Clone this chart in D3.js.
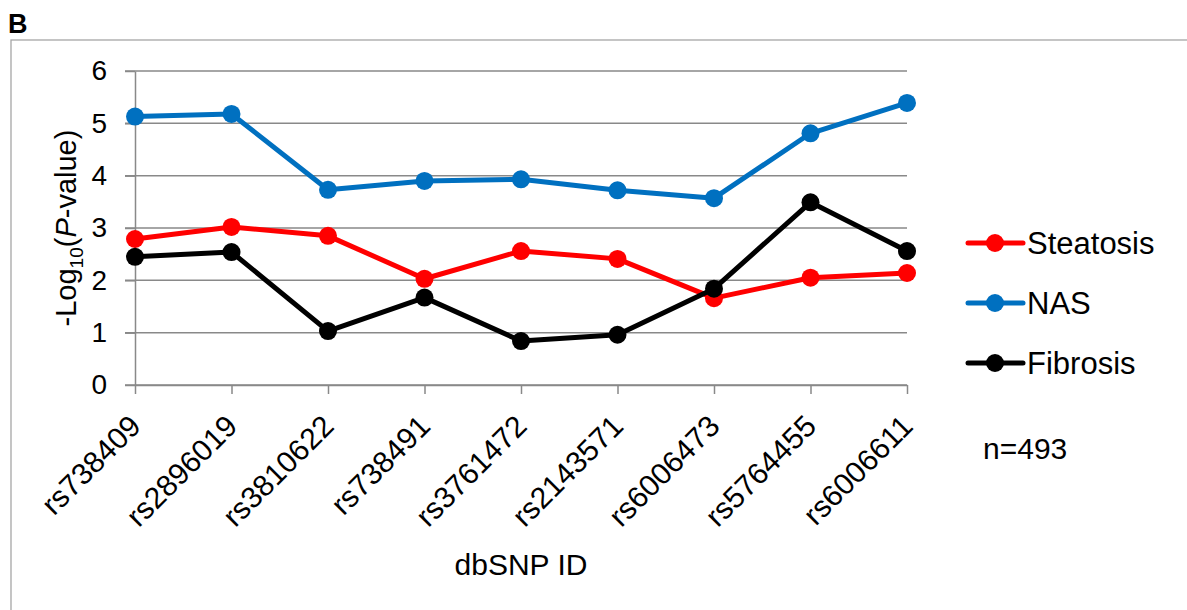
<!DOCTYPE html>
<html>
<head>
<meta charset="utf-8">
<script src="https://cdn.jsdelivr.net/npm/d3@7"></script>
<style>
    body { margin: 0; background: #fff; }
    svg { font-family: 'Liberation Sans', Arial, sans-serif; }
    .axis path, .axis line { stroke: #898989; stroke-width: 1.5; }
</style>
</head>
<body>
<svg width="1187" height="610"></svg>
<script>
let snps = ['rs738409', 'rs2896019', 'rs3810622', 'rs738491', 'rs3761472',
    'rs2143571', 'rs6006473', 'rs5764455', 'rs6006611'];
let steatosis = [2.79, 3.02, 2.85, 2.03, 2.56, 2.41, 1.66, 2.05, 2.14];
let nas = [5.13, 5.18, 3.73, 3.90, 3.93, 3.72, 3.57, 4.81, 5.39];
let fibrosis = [2.45, 2.54, 1.03, 1.67, 0.84, 0.96, 1.84, 3.49, 2.56];
let yTicks = [0, 1, 2, 3, 4, 5, 6];
let seriesNames = ['Steatosis', 'NAS', 'Fibrosis'];
let seriesColors = ['#ff0000', '#0070c0', '#000000'];

function main() {
    let svg = d3.select('svg'),
        margin = { top: 71, bottom: 225, left: 135, right: 280 },
        width = svg.attr('width') - margin.left - margin.right,
        height = svg.attr('height') - margin.top - margin.bottom;

    //Panel border + label
    svg.append('rect')
        .attr('x', 11).attr('y', 40)
        .attr('width', 1200).attr('height', 600)
        .attr('fill', 'none')
        .attr('stroke', '#a6a6a6')
        .attr('stroke-width', 1.3);
    svg.append('text')
        .attr('x', 8).attr('y', 33)
        .style('font-size', '27px')
        .style('font-weight', 'bold')
        .text('B');

    //Scales
    let xScale = d3.scalePoint()
            .domain(snps)
            .range([margin.left, margin.left + width]),
        yScale = d3.scaleLinear()
            .domain([0, 6])
            .range([height + margin.top, margin.top]);

    //Gridlines
    svg.append('g')
        .selectAll('line')
        .data(yTicks)
        .enter()
        .append('line')
        .attr('x1', margin.left - 10)
        .attr('x2', margin.left + width)
        .attr('y1', (d) => yScale(d))
        .attr('y2', (d) => yScale(d))
        .attr('stroke', '#898989')
        .attr('stroke-width', 1.5);

    //Y Axis
    let yAxis = svg.append('g')
        .attr('class', 'axis')
        .attr('transform', 'translate(' + margin.left + ', 0)')
        .call(d3.axisLeft(yScale).tickValues(yTicks).tickFormat(d3.format('d'))
            .tickSizeInner(10).tickSizeOuter(0).tickPadding(18));
    yAxis.attr('font-family', null).attr('font-size', null);
    yAxis.selectAll('text')
        .style('font-size', '28px')
        .attr('fill', '#000');

    //X Axis
    let xAxis = svg.append('g')
        .attr('class', 'axis')
        .attr('transform', 'translate(0, ' + (height + margin.top) + ')')
        .call(d3.axisBottom(xScale).tickSizeInner(9).tickSizeOuter(0));
    xAxis.attr('font-family', null).attr('font-size', null);
    xAxis.selectAll('text')
        .attr('y', 0)
        .attr('dy', 0)
        .attr('transform', 'translate(7, 43) rotate(-45)')
        .attr('text-anchor', 'end')
        .attr('fill', '#000')
        .style('font-size', '30px');

    //Axis titles
    svg.append('text')
        .attr('text-anchor', 'middle')
        .attr('x', margin.left + width / 2)
        .attr('y', 575)
        .style('font-size', '30px')
        .text('dbSNP ID');

    let yTitle = svg.append('text')
        .attr('text-anchor', 'middle')
        .attr('transform', 'translate(76, ' + (margin.top + height / 2) + ') rotate(-90)')
        .style('font-size', '29px');
    yTitle.append('tspan').text('-Log');
    yTitle.append('tspan').attr('dy', 7).style('font-size', '19px').text('10');
    yTitle.append('tspan').attr('dy', -7).text('(');
    yTitle.append('tspan').style('font-style', 'italic').text('P');
    yTitle.append('tspan').text('-value)');

    //Lines + markers
    let allSeries = [steatosis, nas, fibrosis];
    let line = d3.line()
        .x((d, i) => xScale(snps[i]))
        .y((d) => yScale(d));

    // NAS first, then steatosis, fibrosis on top
    [1, 0, 2].forEach((k) => {
        let g = svg.append('g');
        g.append('path')
            .datum(allSeries[k])
            .attr('d', line)
            .attr('fill', 'none')
            .attr('stroke', seriesColors[k])
            .attr('stroke-width', 5)
            .attr('stroke-linejoin', 'round');
        g.selectAll('circle')
            .data(allSeries[k])
            .enter()
            .append('circle')
            .attr('cx', (d, i) => xScale(snps[i]))
            .attr('cy', (d) => yScale(d))
            .attr('r', 9)
            .attr('fill', seriesColors[k]);
    });

    //Legend
    let legend = svg.append('g')
        .selectAll('g')
        .data(seriesNames)
        .enter()
        .append('g')
        .attr('transform', (d, i) => 'translate(968, ' + (243 + i * 60) + ')');
    legend.append('line')
        .attr('x1', 0).attr('x2', 55)
        .attr('stroke', (d, i) => seriesColors[i])
        .attr('stroke-width', 5)
        .attr('stroke-linecap', 'round');
    legend.append('circle')
        .attr('cx', 27).attr('r', 9)
        .attr('fill', (d, i) => seriesColors[i]);
    legend.append('text')
        .attr('x', 59)
        .attr('dy', '0.36em')
        .style('font-size', '31px')
        .text((d) => d);

    svg.append('text')
        .attr('x', 983)
        .attr('y', 459)
        .style('font-size', '30px')
        .text('n=493');
}

main();
</script>
</body>
</html>
